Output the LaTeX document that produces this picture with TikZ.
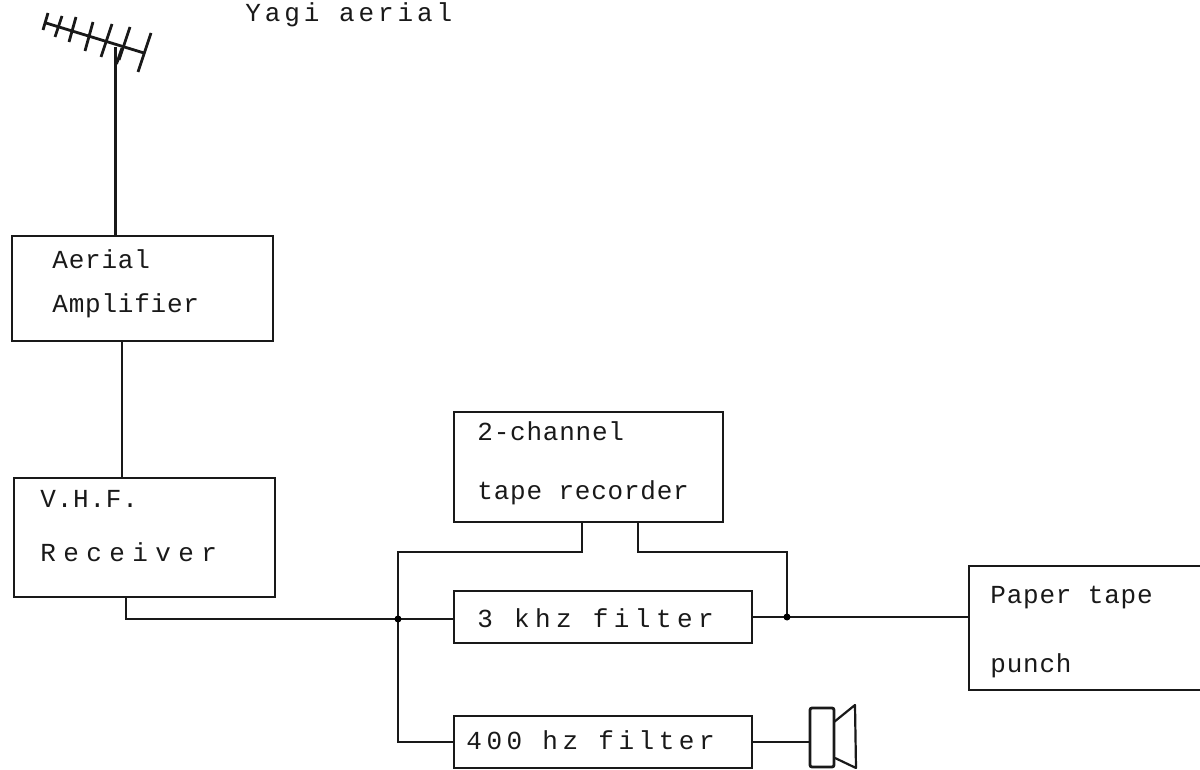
\documentclass[tikz,border=0pt]{standalone}
\usepackage{fontspec}
\newfontfamily\tyTight[LetterSpace=3]{Liberation Mono}
\newfontfamily\tyMid[LetterSpace=15]{Liberation Mono}
\newfontfamily\tyMidB[LetterSpace=17.5]{Liberation Mono}
\newfontfamily\tyMidC[LetterSpace=21]{Liberation Mono}
\newfontfamily\tyWide[LetterSpace=28.5]{Liberation Mono}
\tikzset{
  wire/.style={line width=1.4pt,black!90},
  blockbox/.style={draw=black!90,line width=1.4pt,inner sep=0pt,rectangle},
  lbl/.style={inner sep=0pt,anchor=west,align=left,text=black!90,font=\fontsize{13}{22}\selectfont\tyTight},
  lblb/.style={inner sep=0pt,anchor=base west,text=black!90,font=\fontsize{13}{22}\selectfont\tyMid},
  dot/.style={circle,fill=black,inner sep=0pt,minimum size=3.5pt},
}
\begin{document}
\begin{tikzpicture}[x=0.5pt,y=-0.5pt]
\useasboundingbox (0,0) rectangle (1200,770);
\clip (0,0) rectangle (1200,770);
% boxes
\node[blockbox,minimum width=130.5pt,minimum height=52.5pt] (aerial) at (142.5,288.5) {};
\node[blockbox,minimum width=130.5pt,minimum height=59.5pt] (vhf) at (144.5,537.5) {};
\node[blockbox,minimum width=134.5pt,minimum height=55pt] (rec) at (588.5,467) {};
\node[blockbox,minimum width=149pt,minimum height=26pt] (fa) at (603,617) {};
\node[blockbox,minimum width=149pt,minimum height=26pt] (fb) at (603,742) {};
\node[blockbox,minimum width=121pt,minimum height=62pt] (punch) at (1090,628) {};
\node[blockbox,minimum width=12pt,minimum height=29.5pt,rounded corners=1pt] (spk) at (822,737.5) {};
% labels
\node[lblb] (yagi) at (245,22) {Yagi aerial};
\node[lbl] (aeriallbl) at (52,284) {Aerial\\[0pt]Amplifier};
\node[lbl] (vhflbl) at (40,526) {V.H.F.\\[5pt]{\tyWide Receiver}};
\node[lbl] (reclbl) at (477,463.5) {2-channel\\[7.5pt]tape recorder};
\node[lblb,font=\fontsize{13}{22}\selectfont\tyMidC] (falbl) at (477,627) {3 khz filter};
\node[lblb,font=\fontsize{13}{22}\selectfont\tyMidB] (fblbl) at (466,749) {400 hz filter};
\node[lbl] (punchlbl) at (990,632) {Paper tape\\[12.5pt]punch};
% aerial
\coordinate (boomL) at (46,23);
\coordinate (boomR) at (144,53);
\draw[wire] (boomL) -- (boomR);
\foreach \xa/\ya/\xb/\yb [count=\i] in {48/13/43/30,62/16/55/37,76/17/69/42,93/22/85/51,112/24/101/57,130/27/119/60,151/33/138/72}{
  \coordinate (ea\i) at (\xa,\ya);
  \coordinate (eb\i) at (\xb,\yb);
  \draw[wire] (ea\i) -- (eb\i);
}
\coordinate (mastT) at (115.5,47);
\coordinate (mastF) at (115.5,236);
\coordinate (dipole) at (116.5,64);
\coordinate (dipoleR) at (122,48);
\draw[wire] (mastT) -- (mastF);
\draw[wire] (dipole) -- (dipoleR);
% connectors
\coordinate (jA) at (398,619);
\coordinate (jB) at (787,617);
\coordinate (aS) at (122,341);
\coordinate (vN) at (122,478);
\coordinate (vS) at (126,597);
\coordinate (rL) at (582,522);
\coordinate (rR) at (638,522);
\draw[wire] (aS) -- (vN);
\draw[wire] (vS) |- (jA) -- (jA -| fa.west);
\draw[wire] (jA) |- (fb.west);
\draw[wire] (jA) -- (398,552) -| (rL);
\draw[wire] (rR) -- (638,552) -| (jB);
\draw[wire] (fa.east) -- (jB) -- (jB -| punch.west);
\draw[wire] (fb.east) -- (fb.east -| spk.west);
\node[dot] (dotA) at (jA) {};
\node[dot] (dotB) at (jB) {};
% speaker cone
\coordinate (c1) at (834,722);
\coordinate (c2) at (855,705);
\coordinate (c3) at (856,768);
\coordinate (c4) at (835,758);
\draw[line width=1.1pt,black!90,line join=round] (c1) -- (c2) -- (c3) -- (c4);
\end{tikzpicture}
\end{document}
